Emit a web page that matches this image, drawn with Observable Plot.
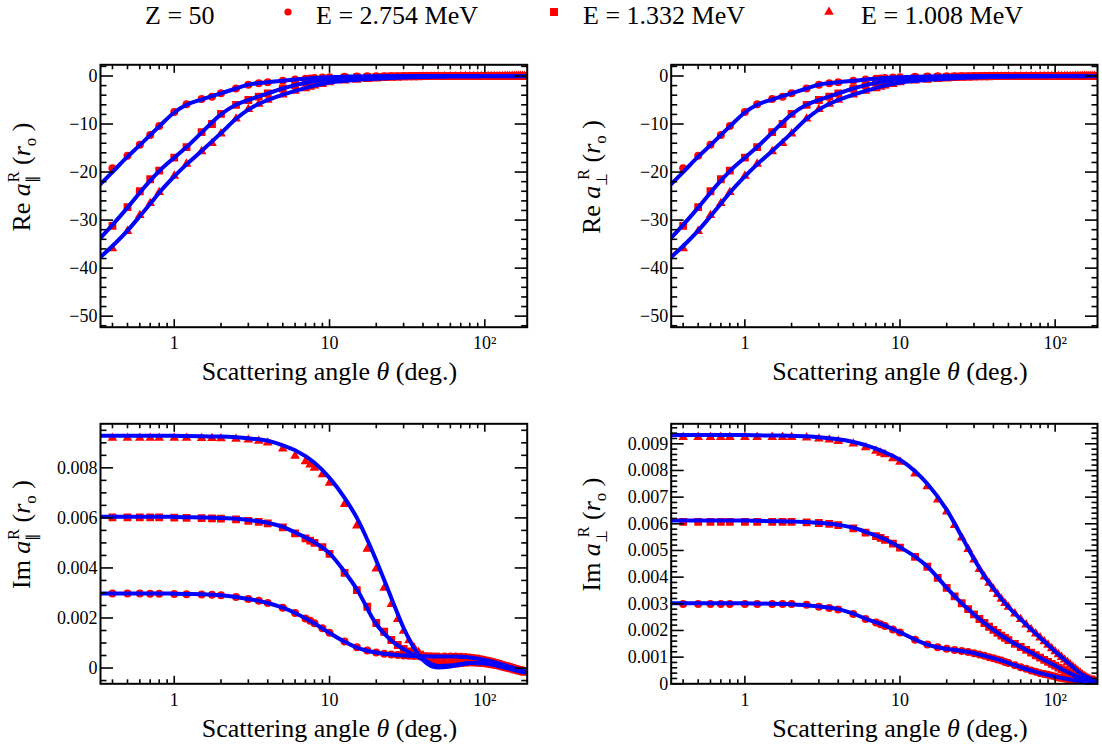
<!DOCTYPE html>
<html><head><meta charset="utf-8">
<script src="https://cdn.jsdelivr.net/npm/d3@7"></script>
<script src="https://cdn.jsdelivr.net/npm/@observablehq/plot@0.6"></script>
<style>
body{margin:0;background:#fff;}
#fig{position:relative;width:1102px;height:751px;overflow:hidden;background:#fff;}
#fig svg{position:absolute;}
</style></head><body><div id="fig"></div>
<script>
// ---------------- DATA ----------------
const element = "Z = 50";
const energies = ["E = 2.754 MeV", "E = 1.332 MeV", "E = 1.008 MeV"];
const symbols = ["circle", "square", "triangle"];

// scattering angles (deg.) of the measured/tabulated points
const pointTheta = [0.4,0.5,0.6,0.7,0.8,1,1.2,1.5,1.75,2, 2.5,3,3.5,4,5,6,7,7.5,8,9,
  10,12.5,15,17.5,20,22.5,25,27.5,30,32.5, 35,37.5,40,42.5,45,47.5,50,55,60,65,
  70,75,80,85,90,95,100,105,110,115, 120,125,130,135,140,145,150,155,160,165, 170,175,180];
// angles of the knots of the calculated curves
const lineTheta = [0.335,0.4,0.5,0.6,0.7,0.8,1,1.2,1.5,2, 2.5,3,4,5,6,8,10,12.5,15,20,
  25,30,35,40,50,60,70,80,100,120, 150,180];

// Re a (parallel and perpendicular coincide at the reading accuracy), units r0
const reCirclePts = [-19.2,-16.6,-14.3,-12.3,-10.4,-7.5,-5.9,-4.8,-4.3,-3.6,
  -2.6,-1.8,-1.5,-1.3,-1.0,-0.75,-0.55,-0.5,-0.42,-0.33,
  -0.25,-0.15,-0.1,-0.07,-0.05,-0.04,-0.03,-0.03,-0.02,-0.02,
  -0.02,-0.02,-0.02,-0.02,-0.02,-0.01,-0.01,-0.01,-0.01,-0.01,
  -0.01,-0.01,-0.01,-0.01,-0.01,-0.01,-0.01,-0.01,-0.01,-0.01,
  -0.01,-0.01,-0.01,-0.01,-0.01,-0.01,-0.01,-0.01,-0.01,-0.01, -0.01,-0.01,-0.01];
const reSquarePts = [-31.2,-27.3,-24.0,-21.5,-19.7,-17.0,-14.8,-11.7,-10.0,-7.9,
  -6.0,-5.0,-4.3,-3.6,-2.6,-1.9,-1.4,-1.25,-1.1,-0.85,
  -0.65,-0.42,-0.3,-0.22,-0.17,-0.13,-0.1,-0.08,-0.07,-0.06,
  -0.05,-0.05,-0.04,-0.04,-0.03,-0.03,-0.03,-0.02,-0.02,-0.02,
  -0.02,-0.02,-0.02,-0.02,-0.02,-0.02,-0.02,-0.02,-0.02,-0.02,
  -0.02,-0.02,-0.02,-0.02,-0.02,-0.01,-0.01,-0.01,-0.01,-0.01, -0.01,-0.01,-0.01];
const reTrianglePts = [-35.9,-32.3,-29.0,-26.5,-24.2,-20.8,-18.3,-15.7,-14.0,-12.0,
  -8.9,-6.9,-5.8,-5.0,-3.9,-3.1,-2.6,-2.3,-2.0,-1.7,
  -1.35,-1.0,-0.8,-0.65,-0.55,-0.47,-0.4,-0.35,-0.3,-0.27,
  -0.25,-0.22,-0.2,-0.19,-0.17,-0.16,-0.15,-0.14,-0.12,-0.11,
  -0.1,-0.09,-0.09,-0.08,-0.08,-0.07,-0.07,-0.06,-0.06,-0.06,
  -0.05,-0.05,-0.05,-0.04,-0.04,-0.04,-0.04,-0.03,-0.03,-0.03, -0.03,-0.03,-0.03];
const reCircleLine = [-22.5,-20.0,-16.8,-14.4,-12.3,-10.5,-7.6,-6.0,-4.9,-3.6,
  -2.6,-1.8,-1.3,-1.0,-0.75,-0.42,-0.25,-0.15,-0.1,-0.05,
  -0.03,-0.02,-0.02,-0.02,-0.01,-0.01,-0.01,-0.01,-0.01,-0.01, -0.01,-0.01];
const reSquareLine = [-33.7,-31.0,-27.4,-24.3,-21.8,-19.8,-17.0,-14.8,-11.8,-8.0,
  -6.0,-5.0,-3.6,-2.6,-1.9,-1.1,-0.65,-0.42,-0.3,-0.17,
  -0.1,-0.07,-0.05,-0.04,-0.03,-0.02,-0.02,-0.02,-0.02,-0.01, -0.01,-0.01];
const reTriangleLine = [-37.7,-35.4,-32.2,-29.2,-26.6,-24.3,-20.9,-18.4,-15.6,-11.9,
  -8.9,-7.0,-5.0,-3.9,-3.1,-2.0,-1.35,-1.0,-0.8,-0.55,
  -0.4,-0.3,-0.25,-0.2,-0.15,-0.12,-0.1,-0.09,-0.07,-0.05, -0.04,-0.03];

// Im a parallel, units r0
const imParCirclePts = [0.00298,0.00298,0.00298,0.00297,0.00297,0.00296,0.00295,0.00294,0.00293,0.00291,
  0.00284,0.00276,0.00269,0.0026,0.00241,0.0022,0.00198,0.00189,0.00179,0.00159,
  0.00141,0.00106,0.00083,0.0007,0.00062,0.00057,0.00054,0.00052,0.0005,0.00049,
  0.00048,0.00048,0.00047,0.00047,0.00047,0.00046,0.00046,0.00046,0.00046,0.00046,
  0.00045,0.00044,0.00042,0.0004,0.00038,0.00035,0.00032,0.00029,0.00026,0.00023,
  0.0002,0.00017,0.00013,0.0001,0.00008,0.00005,0.00002,-0.00001,-0.00004,-0.00006,
  -0.00008,-0.0001,-0.00012];
const imParSquarePts = [0.00602,0.00602,0.00602,0.00602,0.00602,0.00601,0.006,0.00599,0.00598,0.00597,
  0.00594,0.00588,0.00584,0.00578,0.00562,0.00538,0.00518,0.00509,0.005,0.00483,
  0.00456,0.0038,0.00311,0.00245,0.0018,0.00145,0.00112,0.00092,0.00076,0.00066,
  0.00058,0.00052,0.00046,0.0004,0.00034,0.00028,0.00022,0.00018,0.00017,0.00018,
  0.0002,0.00022,0.00023,0.00023,0.00022,0.00021,0.0002,0.00018,0.00016,0.00014,
  0.00012,0.0001,0.00007,0.00004,0.00002,0,-0.00002,-0.00005,-0.00007,-0.00009,
  -0.00011,-0.00013,-0.00015];
const imParTrianglePts = [0.00919,0.00919,0.00919,0.00919,0.00919,0.00919,0.00919,0.00918,0.00918,0.00917,
  0.00915,0.00912,0.00907,0.009,0.00876,0.00848,0.00826,0.00813,0.008,0.00774,
  0.0074,0.00655,0.00569,0.00476,0.00397,0.0032,0.00255,0.00195,0.00148,0.0011,
  0.00082,0.00063,0.0005,0.0004,0.00032,0.00025,0.0002,0.00016,0.00016,0.00017,
  0.00019,0.00021,0.00022,0.00022,0.00021,0.0002,0.00019,0.00017,0.00015,0.00013,
  0.00011,0.00009,0.00006,0.00003,0.00001,-0.00001,-0.00003,-0.00005,-0.00008,-0.0001,
  -0.00012,-0.00014,-0.00016];
const imParCircleLine = [0.00298,0.00298,0.00298,0.00298,0.00298,0.00298,0.00297,0.00296,0.00295,0.00291,
  0.00284,0.00276,0.0026,0.00241,0.0022,0.00178,0.0014,0.00105,0.00082,0.00062,
  0.00054,0.0005,0.00048,0.00047,0.00046,0.00046,0.00045,0.00042,0.00032,0.0002,
  0.00002,-0.00012];
const imParSquareLine = [0.00605,0.00605,0.00605,0.00605,0.00605,0.00605,0.00604,0.00603,0.00602,0.006,
  0.00597,0.00592,0.0058,0.00564,0.00542,0.00502,0.00458,0.00385,0.00315,0.00175,
  0.0011,0.00075,0.00052,0.00035,0.00008,0.0001,0.00016,0.0002,0.00019,0.00011,
  -0.00003,-0.00016];
const imParTriangleLine = [0.00928,0.00928,0.00928,0.00928,0.00928,0.00928,0.00928,0.00927,0.00926,0.00925,
  0.00922,0.00918,0.00908,0.0089,0.0087,0.0082,0.0076,0.0068,0.006,0.0043,
  0.0028,0.0016,0.0008,0.00032,0.00002,0.00006,0.00014,0.0002,0.00019,0.00009,
  -0.00006,-0.00018];

// Im a perpendicular, units r0
const imPerpCirclePts = [0.00299,0.00299,0.00299,0.00299,0.00299,0.00299,0.00299,0.00299,0.00299,0.00299,
  0.00296,0.00289,0.00284,0.00279,0.00262,0.00243,0.0023,0.00223,0.00217,0.00204,
  0.00192,0.00165,0.00147,0.00137,0.00131,0.00127,0.00123,0.00119,0.00115,0.0011,
  0.00105,0.001,0.00096,0.00091,0.00087,0.00082,0.00078,0.0007,0.00062,0.00056,
  0.0005,0.00045,0.0004,0.00037,0.00034,0.0003,0.00027,0.00024,0.00022,0.0002,
  0.00018,0.00016,0.00014,0.00013,0.00012,0.00011,0.0001,0.0001,0.00009,0.00009,
  0.00009,0.00009,0.00009];
const imPerpSquarePts = [0.00607,0.00607,0.00607,0.00607,0.00607,0.00607,0.00607,0.00607,0.00607,0.00607,
  0.00605,0.00603,0.006,0.00595,0.00583,0.00567,0.00554,0.00547,0.0054,0.00526,
  0.00511,0.00476,0.00439,0.00397,0.0036,0.00328,0.00302,0.0028,0.0026,0.00243,
  0.00228,0.00214,0.00202,0.00191,0.00181,0.00172,0.00164,0.0015,0.00138,0.00127,
  0.00117,0.00107,0.00098,0.0009,0.00082,0.00075,0.00068,0.00061,0.00055,0.00049,
  0.00044,0.00039,0.00034,0.0003,0.00026,0.00022,0.00019,0.00016,0.00014,0.00012,
  0.00011,0.0001,0.0001];
const imPerpTrianglePts = [0.00925,0.00925,0.00925,0.00925,0.00925,0.00925,0.00925,0.00925,0.00925,0.00925,
  0.00923,0.00919,0.00915,0.0091,0.009,0.00886,0.00873,0.00866,0.0086,0.00845,
  0.00832,0.00788,0.0074,0.0069,0.00645,0.00595,0.00548,0.00505,0.00465,0.0043,
  0.00402,0.00378,0.00356,0.00336,0.00318,0.00302,0.00288,0.00263,0.00242,0.00222,
  0.00204,0.00188,0.00173,0.00159,0.00146,0.00133,0.00121,0.0011,0.001,0.0009,
  0.00081,0.00072,0.00064,0.00056,0.00048,0.00041,0.00034,0.00028,0.00023,0.00019,
  0.00016,0.00014,0.00013];
const imPerpCircleLine = [0.00302,0.00302,0.00302,0.00302,0.00302,0.00302,0.00302,0.00301,0.003,0.00298,
  0.00295,0.0029,0.0028,0.00263,0.00244,0.00218,0.00193,0.00166,0.00147,0.00131,
  0.00123,0.00115,0.00105,0.00096,0.00078,0.00062,0.0005,0.0004,0.00027,0.00018,
  0.0001,0.00009];
const imPerpSquareLine = [0.00612,0.00612,0.00612,0.00612,0.00612,0.00612,0.00612,0.00611,0.0061,0.00609,
  0.00607,0.00604,0.00596,0.00585,0.0057,0.00542,0.00512,0.00477,0.0044,0.0036,
  0.00302,0.0026,0.00228,0.00202,0.00164,0.00138,0.00117,0.00098,0.00068,0.00044,
  0.00019,0.0001];
const imPerpTriangleLine = [0.00933,0.00933,0.00933,0.00933,0.00933,0.00933,0.00933,0.00932,0.00931,0.0093,
  0.00928,0.00925,0.00917,0.00907,0.00895,0.00868,0.0084,0.00797,0.0075,0.00652,
  0.00552,0.00468,0.00404,0.00357,0.00288,0.00242,0.00204,0.00173,0.00121,0.00081,
  0.00034,0.00013];

// axis ticks
const xMajor = [1, 10, 100];
const xMajorLabels = ["1", "10", "10\u00b2"];
const xMinor = [0.4,0.5,0.6,0.7,0.8,0.9, 2,3,4,5,6,7,8,9, 20,30,40,50,60,70,80,90];
const reMajor = [0, -10, -20, -30, -40, -50];
const reMajorLabels = ["0", "\u221210", "\u221220", "\u221230", "\u221240", "\u221250"];
const imParMajor = [0, 0.002, 0.004, 0.006, 0.008];
const imParMajorLabels = ["0", "0.002", "0.004", "0.006", "0.008"];
const imPerpMajor = [0, 0.001, 0.002, 0.003, 0.004, 0.005, 0.006, 0.007, 0.008, 0.009];
const imPerpMajorLabels = ["0", "0.001", "0.002", "0.003", "0.004", "0.005", "0.006", "0.007", "0.008", "0.009"];

// ---------------- DRAWING ----------------
const FONT = '"Liberation Serif", serif';
const RED = "#ff0000", BLUE = "#0000ff";
const dotR = {circle: 4, square: 4.4, triangle: 3.6};
const fig = document.getElementById("fig");

function rows(thetas, values) { return thetas.map((t, i) => ({theta: t, v: values[i]})); }
function minorTicks(lo, hi, step, majors) {
  const out = [];
  for (let k = Math.ceil(lo / step - 1e-9); k * step <= hi + 1e-12; k++) {
    const v = +(k * step).toFixed(6);
    if (!majors.some(m => Math.abs(m - v) < step / 10)) out.push(v);
  }
  return out;
}

function panel(c) {
  const [fx0, fx1, fy0, fy1] = c.frame;
  const yMinor = minorTicks(c.yDomain[0], c.yDomain[1], c.yMinorStep, c.yMajor);
  const marks = [];
  c.pts.forEach((vals, k) => marks.push(Plot.dot(rows(pointTheta, vals), {
    x: "theta", y: "v", symbol: symbols[k], r: dotR[symbols[k]], fill: RED, clip: true})));
  c.lines.forEach(vals => marks.push(Plot.line(rows(lineTheta, vals), {
    x: "theta", y: "v", stroke: BLUE, strokeWidth: 4, curve: "monotone-x", clip: true})));
  const tk = {tickFormat: () => "", label: null, strokeWidth: 1.6};
  marks.push(
    Plot.axisX(xMajor, {anchor: "bottom", tickSize: 7.5, dy: -7.5, ...tk}),
    Plot.axisX(xMinor, {anchor: "bottom", tickSize: 4, dy: -4, ...tk}),
    Plot.axisX(xMajor, {anchor: "top", tickSize: 7.5, dy: 7.5, ...tk}),
    Plot.axisX(xMinor, {anchor: "top", tickSize: 4, dy: 4, ...tk}),
    Plot.axisY(c.yMajor, {anchor: "left", tickSize: 13, dx: 13, ...tk}),
    Plot.axisY(yMinor, {anchor: "left", tickSize: 6.5, dx: 6.5, ...tk}),
    Plot.axisY(c.yMajor, {anchor: "right", tickSize: 13, dx: -13, ...tk}),
    Plot.axisY(yMinor, {anchor: "right", tickSize: 6.5, dx: -6.5, ...tk}),
    Plot.axisX(xMajor, {anchor: "bottom", tickSize: 0, tickPadding: 9, fontSize: 18,
      tickFormat: d => xMajorLabels[xMajor.indexOf(d)], label: null}),
    Plot.axisY(c.yMajor, {anchor: "left", tickSize: 0, tickPadding: 3, fontSize: 18,
      tickFormat: d => c.yLabels[c.yMajor.indexOf(d)], label: null}),
    Plot.frame({stroke: "black", strokeWidth: 2})
  );
  const svg = Plot.plot({
    width: c.width, height: c.height,
    marginLeft: fx0 - c.left, marginRight: c.left + c.width - fx1,
    marginTop: fy0 - c.top, marginBottom: c.top + c.height - fy1,
    x: {type: "log", domain: [0.335, 187.5]},
    y: {domain: c.yDomain},
    style: {fontFamily: FONT, fontSize: "18px", color: "black", background: "none", overflow: "visible"},
    marks
  });
  svg.style.left = c.left + "px";
  svg.style.top = c.top + "px";
  fig.appendChild(svg);
  const s = d3.select(svg);
  // x axis title
  const xt = s.append("text").attr("x", c.xTitle[0] - c.left).attr("y", c.xTitle[1] - c.top)
    .attr("text-anchor", "middle").attr("fill", "black")
    .style("font-family", FONT).style("font-size", "26px");
  xt.append("tspan").text("Scattering angle ");
  xt.append("tspan").style("font-style", "italic").text("\u03b8");
  xt.append("tspan").text(" (deg.)");
  // y axis title
  const yt = s.append("text")
    .attr("transform", `translate(${c.yTitle[0] - c.left},${c.yTitle[1] - c.top}) rotate(-90)`)
    .attr("text-anchor", "middle").attr("fill", "black")
    .style("font-family", FONT).style("font-size", "26px");
  yt.append("tspan").text(c.part + " ");
  yt.append("tspan").style("font-style", "italic").text("a");
  yt.append("tspan").attr("dy", 7).style("font-size", "15px").text(c.pol);
  yt.append("tspan").attr("dx", -7).attr("dy", -18).style("font-size", "16px").text("R");
  yt.append("tspan").attr("dy", 11).text(" (");
  yt.append("tspan").style("font-style", "italic").text("r");
  yt.append("tspan").attr("dy", 6).style("font-size", "17px").text("o");
  yt.append("tspan").attr("dy", -6).text(" )");
}

const colL = {left: 0, width: 551, x0: 100, x1: 526.7, xt: 329.5, yt: 30};
const colR = {left: 551, width: 551, x0: 670.7, x1: 1097, xt: 900, yt: 599.5};
const rowT = {top: 40, height: 350, y0: 64.3, y1: 326.7, xb: 380, yc: 177};
const rowB = {top: 395, height: 356, y0: 423.3, y1: 683.3, xb: 737, yc: 534.5};

function cfg(col, row, o) {
  return Object.assign({left: col.left, width: col.width, top: row.top, height: row.height,
    frame: [col.x0, col.x1, row.y0, row.y1], xTitle: [col.xt, row.xb], yTitle: [col.yt, row.yc]}, o);
}

panel(cfg(colL, rowT, {part: "Re", pol: "\u2225", yDomain: [-52.3, 2.33], yMajor: reMajor, yLabels: reMajorLabels,
  yMinorStep: 2, pts: [reCirclePts, reSquarePts, reTrianglePts], lines: [reCircleLine, reSquareLine, reTriangleLine]}));
panel(cfg(colR, rowT, {part: "Re", pol: "\u22a5", yDomain: [-52.3, 2.33], yMajor: reMajor, yLabels: reMajorLabels,
  yMinorStep: 2, pts: [reCirclePts, reSquarePts, reTrianglePts], lines: [reCircleLine, reSquareLine, reTriangleLine]}));
panel(cfg(colL, rowB, {part: "Im", pol: "\u2225", yDomain: [-0.00063, 0.00976], yMajor: imParMajor, yLabels: imParMajorLabels,
  yMinorStep: 0.0005, pts: [imParCirclePts, imParSquarePts, imParTrianglePts], lines: [imParCircleLine, imParSquareLine, imParTriangleLine]}));
panel(cfg(colR, rowB, {part: "Im", pol: "\u22a5", yDomain: [0, 0.00975], yMajor: imPerpMajor, yLabels: imPerpMajorLabels,
  yMinorStep: 0.0002, pts: [imPerpCirclePts, imPerpSquarePts, imPerpTrianglePts], lines: [imPerpCircleLine, imPerpSquareLine, imPerpTriangleLine]}));

// legend on top
const lg = d3.select(fig).append("svg").attr("width", 1102).attr("height", 40).style("left", "0px").style("top", "0px");
const txt = (x, t) => lg.append("text").attr("x", x).attr("y", 24).attr("fill", "black")
  .style("font-family", FONT).style("font-size", "26px").text(t);
txt(145, element);
const legX = [[288, 316], [554, 583], [829, 861]];
const legSize = {circle: Math.PI * 3.6 * 3.6, square: 64, triangle: 40};
const d3sym = {circle: d3.symbolCircle, square: d3.symbolSquare, triangle: d3.symbolTriangle};
energies.forEach((e, k) => {
  lg.append("path").attr("transform", `translate(${legX[k][0]},12)`)
    .attr("d", d3.symbol(d3sym[symbols[k]], legSize[symbols[k]])()).attr("fill", RED);
  txt(legX[k][1], e);
});
</script></body></html>
